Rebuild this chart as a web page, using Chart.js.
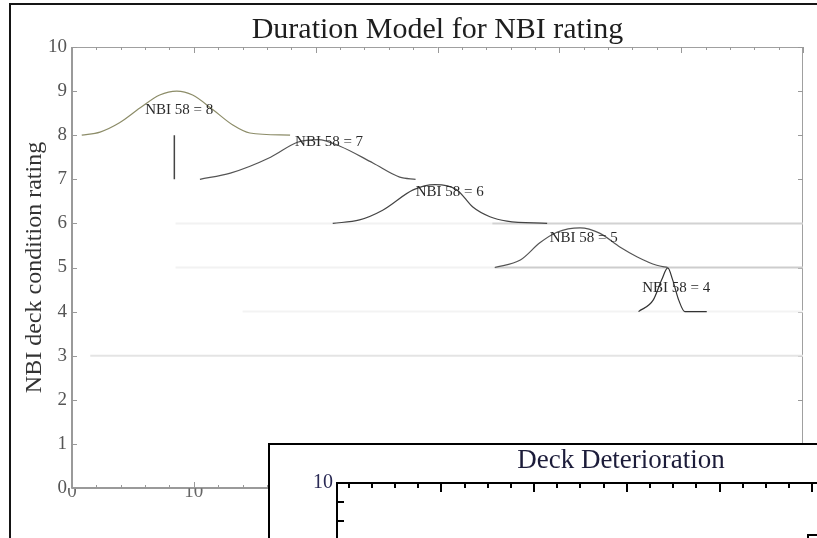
<!DOCTYPE html>
<html>
<head>
<meta charset="utf-8">
<script src="https://cdn.jsdelivr.net/npm/chart.js@4.4.1/dist/chart.umd.min.js"></script>
<style>
  body { margin: 0; width: 817px; height: 538px; overflow: hidden; background: #fff; position: relative; }
  #frame { position: absolute; left: 9px; top: 3px; width: 830px; height: 560px; border-left: 2px solid #151515; border-top: 2px solid #151515; }
  #main { position: absolute; left: 0; top: 0; }
  #inset { position: absolute; left: 268px; top: 443px; width: 580px; height: 120px; border-left: 2px solid #000; border-top: 2px solid #000; background: #fff; overflow: hidden; }
  #insetCanvas { position: absolute; left: 0; top: 0; }
  #corner { position: absolute; left: 807px; top: 534px; width: 20px; height: 20px; border-left: 2px solid #000; border-top: 2px solid #000; }
</style>
</head>
<body>
<div id="frame"></div>
<canvas id="main" width="817" height="538"></canvas>
<div id="inset"><canvas id="insetCanvas" width="650" height="300"></canvas></div>
<div id="corner"></div>
<script>
// tick values
const xTickValues = [0, 10, 20, 30, 40, 50, 60];
const yTickValues = [0, 1, 2, 3, 4, 5, 6, 7, 8, 9, 10];

// duration curves (years, rating)
const nbi8Years  = [0.8, 2.3, 3.9, 5.6, 7.2, 8.6, 9.9, 11.6, 13.2, 14.6, 17.9];
const nbi8Rating = [8.0, 8.07, 8.28, 8.62, 8.91, 9.0, 8.91, 8.57, 8.23, 8.05, 8.0];

const nbi7Years  = [10.5, 13.0, 16.3, 18.5, 20.2, 22.0, 24.7, 26.9, 28.2];
const nbi7Rating = [7.0, 7.14, 7.5, 7.84, 7.9, 7.75, 7.37, 7.05, 7.0];

const nbi6Years  = [21.4, 23.6, 25.5, 28.0, 29.8, 31.6, 32.9, 34.3, 35.7, 39.0];
const nbi6Rating = [6.0, 6.08, 6.3, 6.76, 6.88, 6.76, 6.37, 6.15, 6.05, 6.0];

const nbi5Years  = [34.7, 36.8, 38.4, 39.8, 41.7, 43.3, 45.0, 46.4, 48.0, 48.9];
const nbi5Rating = [5.0, 5.17, 5.56, 5.8, 5.9, 5.78, 5.46, 5.24, 5.05, 5.0];

const nbi4Years  = [46.5, 47.7, 48.4, 48.9, 49.3, 49.8, 50.3, 52.1];
const nbi4Rating = [4.0, 4.26, 4.72, 4.99, 4.72, 4.26, 4.0, 4.0];

// vertical transition mark at 8 -> 7
const transitionYears  = [8.4, 8.4];
const transitionRating = [8, 7];

// faint horizontal residue lines
const residualLevels = [6, 5, 6, 5, 4, 3];
const residualFrom   = [34.5, 34.7, 8.5, 8.5, 14, 1.5];
const residualTo     = [60, 60, 34.5, 34.7, 60, 60];

// curve labels
const labelTexts   = ['NBI 58 = 8', 'NBI 58 = 7', 'NBI 58 = 6', 'NBI 58 = 5', 'NBI 58 = 4'];
const labelYears   = [8.8, 21.1, 31.0, 42.0, 49.6];
const labelRatings = [8.57, 7.85, 6.71, 5.67, 4.54];

// inset axes
const insetXMin = -2.5, insetXMax = 120;
const insetYMin = 0, insetYMax = 10;

const serif = "'Liberation Serif', 'Times New Roman', serif";

function pts(xs, ys) {
  return xs.map((x, i) => ({ x: x, y: ys[i] }));
}

function curve(xs, ys, color) {
  return {
    data: pts(xs, ys),
    borderColor: color,
    borderWidth: 1.2,
    pointRadius: 0,
    cubicInterpolationMode: 'monotone',
    showLine: true,
    order: 1
  };
}

var datasets = [
  curve(nbi8Years, nbi8Rating, '#8c8c68'),
  curve(nbi7Years, nbi7Rating, '#555'),
  curve(nbi6Years, nbi6Rating, '#444'),
  curve(nbi5Years, nbi5Rating, '#555'),
  curve(nbi4Years, nbi4Rating, '#333'),
  {
    data: pts(transitionYears, transitionRating),
    borderColor: '#444', borderWidth: 1.5, pointRadius: 0, showLine: true, order: 1
  }
];
var residualColors = ['#d2d2d2', '#cdcdcd', '#f2f2f2', '#f2f2f2', '#f3f3f3', '#e4e4e4'];
for (var i = 0; i < residualLevels.length; i++) {
  datasets.push({
    data: pts([residualFrom[i], residualTo[i]], [residualLevels[i], residualLevels[i]]),
    borderColor: residualColors[i], borderWidth: 2, pointRadius: 0, showLine: true, order: 2
  });
}

// box with inward ticks, matlab style
const mainAxes = {
  id: 'mainAxes',
  beforeDatasetsDraw(chart) {
    const ctx = chart.ctx, a = chart.chartArea;
    const xs = chart.scales.x, ys = chart.scales.y;
    ctx.save();
    ctx.strokeStyle = '#a0a0a0'; ctx.lineWidth = 1;
    ctx.beginPath();
    ctx.moveTo(a.left, a.top + 0.5); ctx.lineTo(a.right, a.top + 0.5);
    ctx.moveTo(a.right - 0.5, a.top); ctx.lineTo(a.right - 0.5, a.bottom);
    ctx.stroke();
    ctx.strokeStyle = '#7a7a7a'; ctx.lineWidth = 1.5;
    ctx.beginPath();
    ctx.moveTo(a.left, a.top); ctx.lineTo(a.left, a.bottom);
    ctx.lineTo(a.right, a.bottom);
    ctx.stroke();
    ctx.lineWidth = 1;
    ctx.strokeStyle = '#999';
    ctx.beginPath();
    for (var v = 0; v <= 60; v += 2) {
      var px = Math.round(xs.getPixelForValue(v)) + 0.5;
      var len = v % 10 === 0 ? 6 : 3;
      ctx.moveTo(px, a.bottom); ctx.lineTo(px, a.bottom - len);
      ctx.moveTo(px, a.top); ctx.lineTo(px, a.top + len);
    }
    yTickValues.forEach(function (t) {
      var py = Math.round(ys.getPixelForValue(t)) + 0.5;
      ctx.moveTo(a.left, py); ctx.lineTo(a.left + 5, py);
      ctx.moveTo(a.right, py); ctx.lineTo(a.right - 5, py);
    });
    ctx.stroke();
    ctx.restore();
  },
  afterDatasetsDraw(chart) {
    const ctx = chart.ctx;
    const xs = chart.scales.x, ys = chart.scales.y;
    ctx.save();
    ctx.font = '15px ' + serif;
    ctx.fillStyle = '#2a2a2a';
    ctx.textAlign = 'center';
    ctx.textBaseline = 'middle';
    labelTexts.forEach(function (t, i) {
      ctx.fillText(t, xs.getPixelForValue(labelYears[i]), ys.getPixelForValue(labelRatings[i]));
    });
    ctx.restore();
  }
};

new Chart(document.getElementById('main'), {
  type: 'scatter',
  data: { datasets: datasets },
  plugins: [mainAxes],
  options: {
    responsive: false,
    animation: false,
    devicePixelRatio: 1,
    layout: { padding: { left: 10, right: 14, top: 0, bottom: 0 } },
    plugins: {
      legend: { display: false },
      tooltip: { enabled: false },
      title: {
        display: true,
        text: 'Duration Model for NBI rating',
        fullSize: false,
        color: '#1e1e1e',
        font: { family: serif, size: 30, weight: 'normal', lineHeight: 1 },
        padding: { top: 15, bottom: 2 }
      }
    },
    scales: {
      x: {
        type: 'linear', min: 0, max: 60,
        grid: { display: false, drawTicks: false },
        border: { display: false },
        afterFit(s) { s.height = 50; },
        afterBuildTicks(s) { s.ticks = xTickValues.map(v => ({ value: v })); },
        ticks: { color: '#666', font: { family: serif, size: 19, lineHeight: 1 }, padding: -5, maxRotation: 0, autoSkip: false }
      },
      y: {
        type: 'linear', min: 0, max: 10,
        grid: { display: false, drawTicks: false },
        border: { display: false },
        afterFit(s) { s.width = 62; },
        afterBuildTicks(s) { s.ticks = yTickValues.map(v => ({ value: v })); },
        ticks: { color: '#555', font: { family: serif, size: 19, lineHeight: 1 }, padding: 5, autoSkip: false },
        title: {
          display: true,
          text: 'NBI deck condition rating',
          color: '#333',
          font: { family: serif, size: 24, lineHeight: 1.2 },
          padding: { top: 10, bottom: 0 }
        }
      }
    }
  }
});

// inset axes: black box with inward ticks
const insetAxes = {
  id: 'insetAxes',
  afterDraw(chart) {
    const ctx = chart.ctx, a = chart.chartArea;
    const xs = chart.scales.x, ys = chart.scales.y;
    ctx.save();
    ctx.strokeStyle = '#000'; ctx.lineWidth = 2;
    ctx.beginPath();
    ctx.moveTo(a.left, a.bottom); ctx.lineTo(a.left, a.top); ctx.lineTo(a.right + 40, a.top);
    ctx.stroke();
    ctx.lineWidth = 2;
    ctx.beginPath();
    for (var v = 0; v <= insetXMax; v += 5) {
      var px = Math.round(xs.getPixelForValue(v));
      var len = v % 20 === 0 && v > 0 ? 9 : 5;
      ctx.moveTo(px, a.top); ctx.lineTo(px, a.top + len);
    }
    for (var t = insetYMin; t < insetYMax; t += 1) {
      var py = Math.round(ys.getPixelForValue(t));
      ctx.moveTo(a.left, py); ctx.lineTo(a.left + 7, py);
    }
    ctx.stroke();
    ctx.restore();
  }
};

new Chart(document.getElementById('insetCanvas'), {
  type: 'scatter',
  data: { datasets: [] },
  plugins: [insetAxes],
  options: {
    responsive: false,
    animation: false,
    devicePixelRatio: 1,
    layout: { padding: { left: 0, right: 15, top: 0, bottom: 72 } },
    plugins: {
      legend: { display: false },
      tooltip: { enabled: false },
      title: {
        display: true,
        text: 'Deck Deterioration',
        fullSize: false,
        color: '#1c1c3a',
        font: { family: serif, size: 27, weight: 'normal', lineHeight: 1 },
        padding: { top: 2, bottom: 9 }
      }
    },
    scales: {
      x: { type: 'linear', min: insetXMin, max: insetXMax, display: false },
      y: {
        type: 'linear', min: insetYMin, max: insetYMax,
        grid: { display: false, drawTicks: false },
        border: { display: false },
        afterFit(s) { s.width = 67; },
        ticks: {
          stepSize: 1, color: '#2a2a55', padding: 4,
          font: { family: serif, size: 20, lineHeight: 1 },
          callback: v => (v === insetYMax ? String(v) : '')
        }
      }
    }
  }
});
</script>
</body>
</html>
